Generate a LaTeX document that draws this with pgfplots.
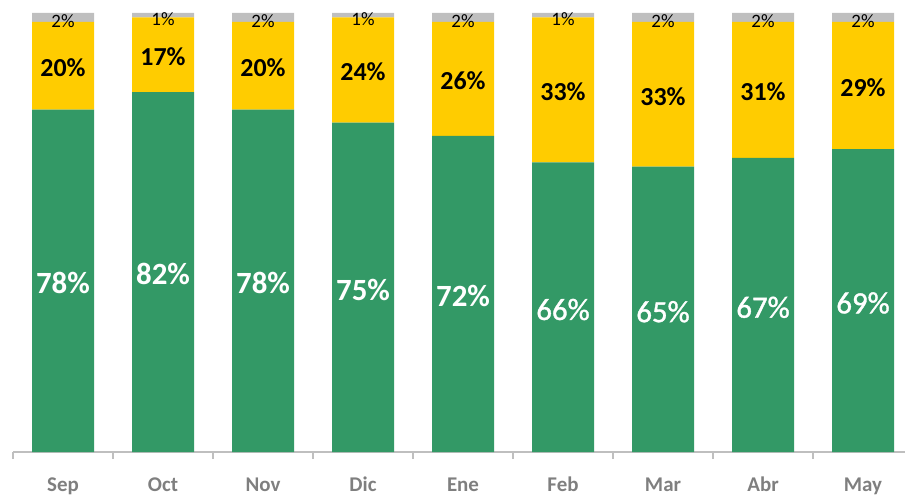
\documentclass[border=0pt]{standalone}
\usepackage{pgfplots}
\usepackage{pgfplotstable}
\pgfplotsset{compat=1.18}
\usepackage{fontspec}
\setmainfont{Carlito}
\newfontfamily\semibold[FakeBold=1.2]{Carlito}

\definecolor{verde}{HTML}{339966}
\definecolor{amarillo}{HTML}{FFCC00}
\definecolor{gris}{HTML}{BFBFBF}
\definecolor{grisTxt}{HTML}{7F7F7F}

% mes, verde, amarillo, gris, etiqueta en negrita
\pgfplotstableread{
x g y r b
0 78 20 2 1
1 82 17 1 1
2 78 20 2 1
3 75 24 1 1
4 72 26 2 1
5 66 33 1 0
6 65 33 2 0
7 67 31 2 0
8 69 29 2 0
}\datos

\begin{document}
\begin{tikzpicture}
\begin{axis}[
  scale only axis, width=446bp, height=226bp,
  ybar stacked, bar width=0.62,
  xmin=-0.5, xmax=8.42, ymin=0, ymax=102.96,
  axis y line=none, axis x line*=bottom,
  x axis line style={-, draw=gris, line width=0.8bp},
  xtick={0,...,8}, major tick length=0pt,
  xticklabels={Sep,Oct,Nov,Dic,Ene,Feb,Mar,Abr,May},
  xticklabel style={anchor=base, yshift=-19.5bp, font=\fontsize{10.5}{12}\selectfont\bfseries, text=grisTxt},
  extra x ticks={-0.5,0.5,...,7.5}, extra x tick labels={},
  extra x tick style={tick align=outside, major tick length=3.5bp, tick style={draw=gris, line width=0.8bp}},
  /pgf/number format/assume math mode=true,
  nodes near coords,
  every node near coord/.append style={anchor=center},
  clip=false,
]
\addplot[fill=verde, draw=none,
  point meta=\thisrow{g},
  visualization depends on={\thisrow{b} \as \negr},
  nodes near coords={\ifdim\negr pt>0.5pt\bfseries\else\semibold\fi\pgfmathprintnumber{\pgfplotspointmeta}\%},
  every node near coord/.append style={yshift=-1.2bp, text=white, font=\fontsize{15.5}{18}\selectfont},
] table[x=x, y=g] {\datos};
\addplot[fill=amarillo, draw=none,
  point meta=\thisrow{y},
  nodes near coords={\bfseries\pgfmathprintnumber{\pgfplotspointmeta}\%},
  every node near coord/.append style={yshift=-1bp, text=black, font=\fontsize{13}{15}\selectfont},
] table[x=x, y=y] {\datos};
\addplot[fill=gris, draw=none,
  point meta=\thisrow{r},
  nodes near coords={\pgfmathprintnumber{\pgfplotspointmeta}\%},
  every node near coord/.append style={yshift=-1.9bp, text=black, font=\fontsize{9.5}{11}\selectfont},
] table[x=x, y=r] {\datos};
\end{axis}
\pgfresetboundingbox
\path[use as bounding box] (-6.5bp,-22bp) rectangle (446bp,226bp);
\end{tikzpicture}
\end{document}
